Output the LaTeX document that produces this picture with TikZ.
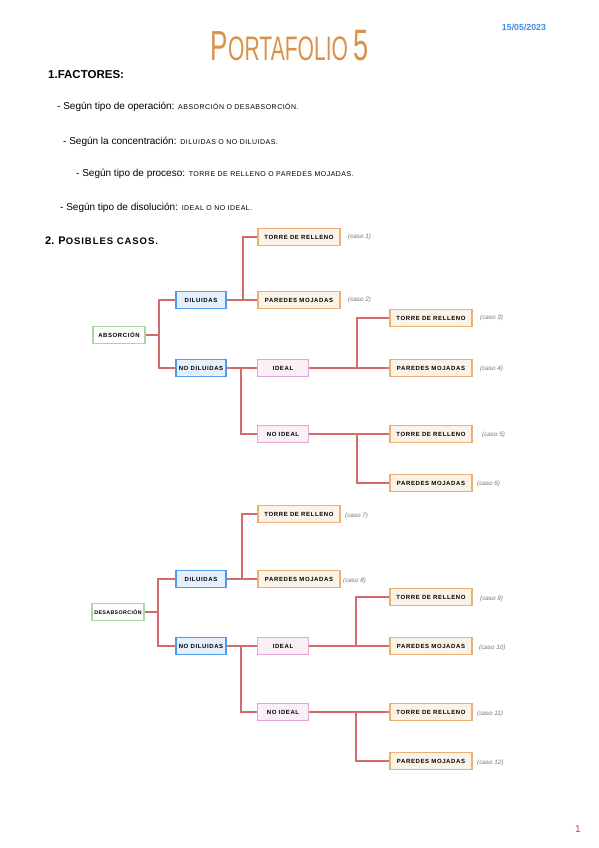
\documentclass[tikz,border=0pt]{standalone}
\usepackage{fontspec}
\newfontfamily\hand{Liberation Sans}
\newfontfamily\capsp[LetterSpace=10]{Liberation Sans}
\newfontfamily\capsq[LetterSpace=7]{Liberation Sans}
\definecolor{conn}{HTML}{D46A6A}
\definecolor{grnB}{HTML}{A9D8A2}
\definecolor{bluB}{HTML}{4A9BEA}
\definecolor{bluF}{HTML}{E6F0FC}
\definecolor{orgB}{HTML}{E9B274}
\definecolor{orgF}{HTML}{FCF3E8}
\definecolor{pnkB}{HTML}{E3A6D4}
\definecolor{pnkF}{HTML}{F9EFF6}
\definecolor{titleC}{HTML}{D9924A}
\definecolor{dateC}{HTML}{3A8FE8}
\definecolor{pageC}{HTML}{C83C3C}
\tikzset{
  box/.style={draw, line width=1.3pt, minimum height=17pt, inner sep=0pt,
    font=\capsp\bfseries\fontsize{6}{7}\selectfont},
  gbox/.style={box, draw=grnB, fill=white, minimum width=52pt},
  bbox/.style={box, draw=bluB, fill=bluF, minimum width=50pt},
  obox/.style={box, draw=orgB, fill=orgF, minimum width=82pt},
  pbox/.style={box, draw=pnkB, fill=pnkF, minimum width=51pt},
  cline/.style={draw=conn, line width=1.3pt},
  caso/.style={anchor=west, inner sep=0pt, text=black!55, font=\hand\itshape\fontsize{6.3}{7}\selectfont},
  bullet/.style={anchor=west, inner sep=0pt, font=\hand\fontsize{10}{11}\selectfont},
}
\newcommand{\cp}[1]{{\capsq\fontsize{7}{8}\selectfont #1}}
\begin{document}
\begin{tikzpicture}[x=1pt,y=-1pt]
\useasboundingbox (0,0) rectangle (599,848);
\fill[white] (0,0) rectangle (599,848);

% header
\node[text=titleC, inner sep=0pt] (title) at (290,46) {\scalebox{0.62}[1]{\hand{\fontsize{42}{42}\selectfont P}{\fontsize{34}{34}\selectfont ORTAFOLIO }{\fontsize{44}{44}\selectfont 5}}};
\node[text=dateC, font=\hand\bfseries\fontsize{8.8}{10}\selectfont] (date) at (524,27) {15/05/2023};
\node[anchor=west, inner sep=0pt, font=\hand\bfseries\fontsize{11.5}{12}\selectfont] (fact) at (48,75) {1.FACTORES:};

\node[bullet] (b1) at (57,107) {- Según tipo de operación: \cp{ABSORCIÓN O DESABSORCIÓN.}};
\node[bullet] (b2) at (63,142) {- Según la concentración: \cp{DILUIDAS O NO DILUIDAS.}};
\node[bullet] (b3) at (76,174) {- Según tipo de proceso: \cp{TORRE DE RELLENO O PAREDES MOJADAS.}};
\node[bullet] (b4) at (60,208) {- Según tipo de disolución: \cp{IDEAL O NO IDEAL.}};

\node[anchor=west, inner sep=0pt, font=\hand\bfseries\fontsize{11}{12}\selectfont] (casos) at (45,241) {2. P{\capsp\fontsize{9.5}{10}\selectfont OSIBLES CASOS.}};

\node[text=pageC, font=\hand\fontsize{10}{10}\selectfont] (page) at (578,829) {1};

% ---------- tree 1 ----------
\node[gbox] (a) at (119,335) {ABSORCIÓN};
\node[bbox] (ad) at (201,300) {DILUIDAS};
\node[bbox] (an) at (201,368) {NO DILUIDAS};
\node[obox] (t1) at (299,237) {TORRE DE RELLENO};
\node[obox] (p2) at (299,300) {PAREDES MOJADAS};
\node[pbox] (ai) at (283,368) {IDEAL};
\node[pbox] (ani) at (283,434) {NO IDEAL};
\node[obox] (t3) at (431,318) {TORRE DE RELLENO};
\node[obox] (p4) at (431,368) {PAREDES MOJADAS};
\node[obox] (t5) at (431,434) {TORRE DE RELLENO};
\node[obox] (p6) at (431,483) {PAREDES MOJADAS};
\node[caso] (c1) at (348,237) {(caso 1)};
\node[caso] (c2) at (348,300) {(caso 2)};
\node[caso] (c3) at (480,318) {(caso 3)};
\node[caso] (c4) at (480,369) {(caso 4)};
\node[caso] (c5) at (482,435) {(caso 5)};
\node[caso] (c6) at (477,484) {(caso 6)};

\coordinate (ja) at (159,335);
\coordinate (jd) at (243,300);
\coordinate (jn) at (241,368);
\coordinate (ji) at (357,368);
\coordinate (jni) at (357,434);
\begin{scope}[cline]
\draw (a.east) -- (ja);
\draw (ad.west) -| (ja) |- (an.west);
\draw (ad.east) -- (p2.west);
\draw (jd) |- (t1.west);
\draw (an.east) -- (ai.west);
\draw (jn) |- (ani.west);
\draw (ai.east) -- (p4.west);
\draw (ji) |- (t3.west);
\draw (ani.east) -- (t5.west);
\draw (jni) |- (p6.west);
\end{scope}

% ---------- tree 2 ----------
\node[gbox, font=\capsq\bfseries\fontsize{5.3}{6}\selectfont] (b) at (118,612) {DESABSORCIÓN};
\node[bbox] (bd) at (201,579) {DILUIDAS};
\node[bbox] (bn) at (201,646) {NO DILUIDAS};
\node[obox] (t7) at (299,514) {TORRE DE RELLENO};
\node[obox] (p8) at (299,579) {PAREDES MOJADAS};
\node[pbox] (bi) at (283,646) {IDEAL};
\node[pbox] (bni) at (283,712) {NO IDEAL};
\node[obox] (t9) at (431,597) {TORRE DE RELLENO};
\node[obox] (p10) at (431,646) {PAREDES MOJADAS};
\node[obox] (t11) at (431,712) {TORRE DE RELLENO};
\node[obox] (p12) at (431,761) {PAREDES MOJADAS};
\node[caso] (c7) at (345,516) {(caso 7)};
\node[caso] (c8) at (343,581) {(caso 8)};
\node[caso] (c9) at (480,599) {(caso 9)};
\node[caso] (c10) at (479,648) {(caso 10)};
\node[caso] (c11) at (477,714) {(caso 11)};
\node[caso] (c12) at (477,763) {(caso 12)};

\coordinate (jb) at (158,612);
\coordinate (kd) at (242,579);
\coordinate (kn) at (241,646);
\coordinate (ki) at (356,646);
\coordinate (kni) at (356,712);
\begin{scope}[cline]
\draw (b.east) -- (jb);
\draw (bd.west) -| (jb) |- (bn.west);
\draw (bd.east) -- (p8.west);
\draw (kd) |- (t7.west);
\draw (bn.east) -- (bi.west);
\draw (kn) |- (bni.west);
\draw (bi.east) -- (p10.west);
\draw (ki) |- (t9.west);
\draw (bni.east) -- (t11.west);
\draw (kni) |- (p12.west);
\end{scope}
\end{tikzpicture}
\end{document}
